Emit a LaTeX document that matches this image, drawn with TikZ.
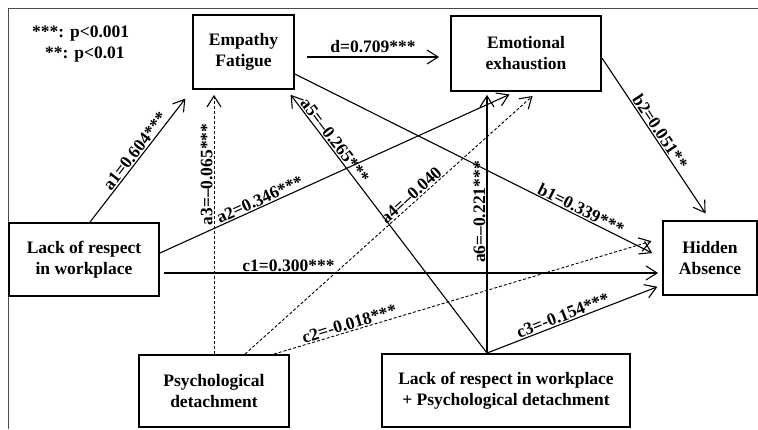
\documentclass[tikz,border=0pt]{standalone}
\usepackage{fontspec}
\setmainfont{Liberation Serif}
\usetikzlibrary{positioning,calc,arrows.meta}

\tikzset{
  box/.style={draw, line width=1.9pt, align=center, inner sep=0pt,
              font=\bfseries\fontsize{17.5}{21}\selectfont},
  lbl/.style={font=\bfseries\fontsize{17.5}{21}\selectfont, inner sep=1pt, sloped},
  arr/.style={line width=1.1pt, -{Straight Barb[length=11pt,width=14pt,line width=1.1pt]}},
  darr/.style={arr, line width=0.9pt, dash pattern=on 3pt off 2pt},
}

\begin{document}
\begin{tikzpicture}[x=1pt,y=-1pt]
  \useasboundingbox (0,0) rectangle (758,429);
  \draw[line width=0.8pt, black!70] (758,8) -- (8,8) -- (8,429);

  % legend
  \node[lbl, sloped=false, anchor=west] (p3) at (31,34) {***: p<0.001};
  \node[lbl, sloped=false, anchor=west] (p2) at (44,55) {**: p<0.01};

  % variables
  \node[box, minimum width=101pt, minimum height=74pt] (emp) at (243.5,52) {Empathy\\Fatigue};
  \node[box, minimum width=150pt, minimum height=75pt] (emo) at (526,53.5) {Emotional\\exhaustion};
  \node[box, minimum width=150pt, minimum height=73pt] (lack) at (84,259.5) {Lack of respect\\in workplace};
  \node[box, minimum width=94pt, minimum height=74pt] (hid) at (710,258) {Hidden\\Absence};
  \node[box, minimum width=150pt, minimum height=72pt] (psy) at (214,391) {Psychological\\detachment};
  \node[box, minimum width=248pt, minimum height=73pt] (lp) at (506,390.5) {Lack of respect in workplace\\+ Psychological detachment};
  \coordinate (lptop) at ([xshift=-19pt]lp.north);

  % paths
  \draw[arr, shorten >=11pt] ([xshift=6pt]lack.north) -- node[lbl, above] (la1) {a1=0.604***} (emp.south west);
  \draw[darr, shorten >=5pt] (psy.north) -- node[lbl, above, pos=0.68] (la3) {a3=--0.065***} (psy.north |- emp.south);
  \draw[arr, shorten >=6pt] (lptop) -- node[lbl, above, pos=0.79] (la5) {a5=--0.265***} ([xshift=-8pt]emp.south east);
  \draw[arr, shorten >=6pt] ([yshift=6.5pt]lack.east) -- node[lbl, above, pos=0.29] (la2) {a2=0.346***} ([xshift=-11pt]emo.south);
  \draw[darr, shorten >=6pt] ([xshift=31pt]psy.north) -- node[lbl, above, pos=0.585] (la4) {a4=--0.040} ([xshift=11pt]emo.south);
  \draw[arr, shorten >=3pt] (lptop) -- node[lbl, above, pos=0.54] (la6) {a6=--0.221***} (lptop |- emo.south);
  \draw[arr] ([xshift=12pt,yshift=-5pt]emp.east) -- node[lbl, above=3pt] (ld) {d=0.709***} ([xshift=-11pt,yshift=-3.5pt]emo.west);
  \draw[arr, shorten >=11pt] ([yshift=-22pt]emp.east) -- node[lbl, above, pos=0.77] (lb1) {b1=0.339***} (hid.west);
  \draw[arr, shorten >=8pt] ([yshift=-4.5pt]emo.east) -- node[lbl, above, pos=0.48] (lb2) {b2=0.051**} (hid.north);
  \draw[arr, shorten >=4pt] ([xshift=4pt,yshift=-13.5pt]lack.east) -- node[lbl, above, pos=0.25] (lc1) {c1=0.300***} ([yshift=-15pt]hid.west);
  \draw[darr, shorten >=11pt] ([xshift=-16pt]psy.north east) -- node[lbl, above, pos=0.2] (lc2) {c2=-0.018***} ([yshift=20pt]hid.west);
  \draw[arr, shorten >=5pt] (lptop) -- node[lbl, above, pos=0.45] (lc3) {c3=-0.154***} ([yshift=-27pt]hid.west);
\end{tikzpicture}
\end{document}
